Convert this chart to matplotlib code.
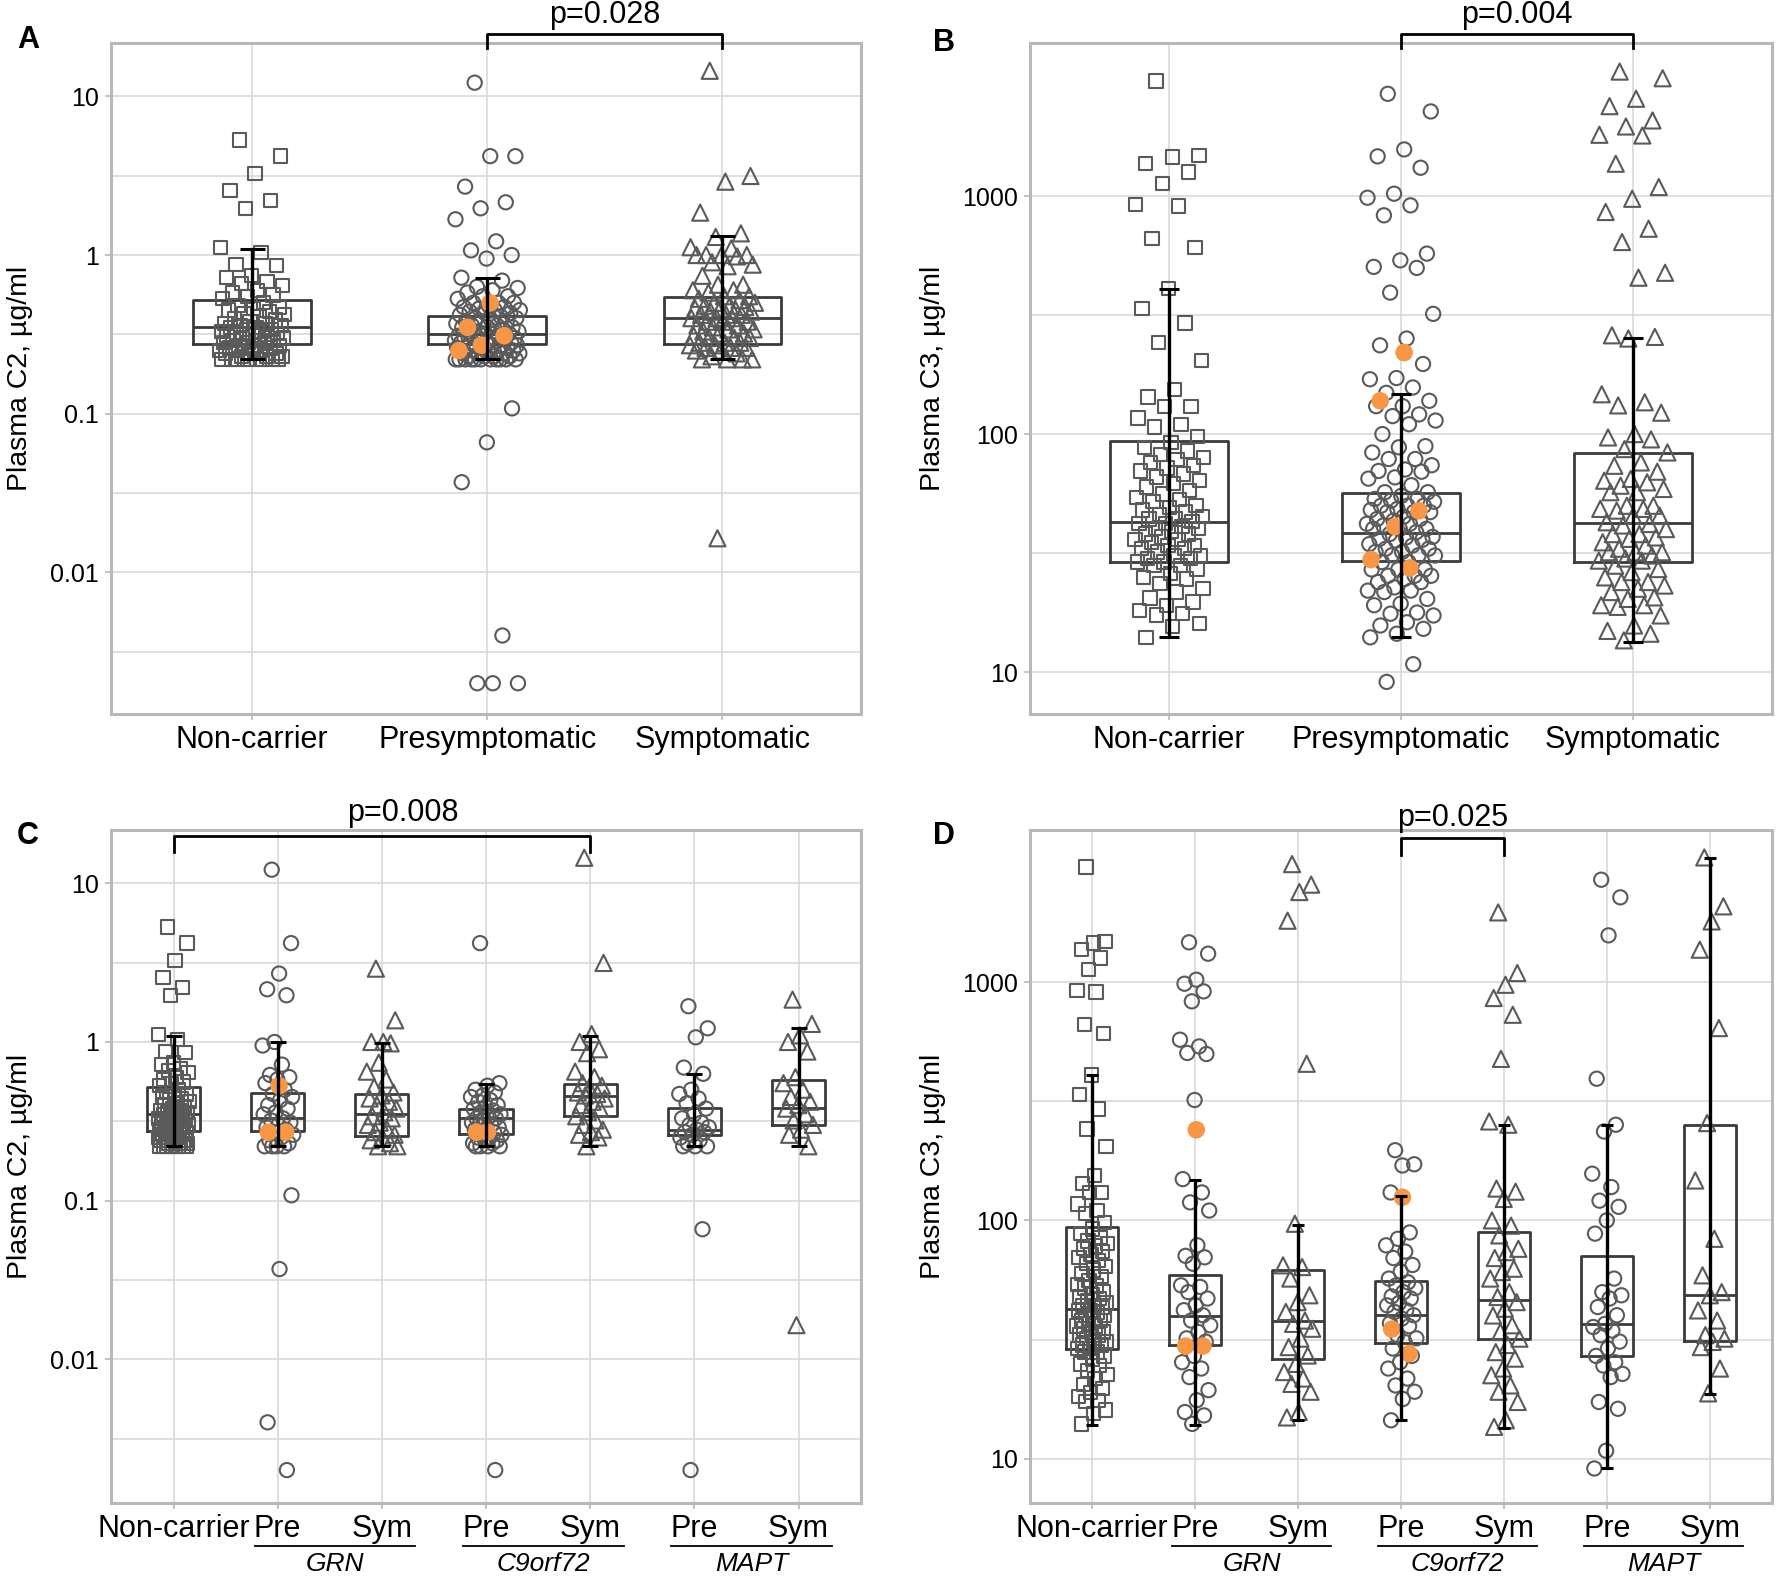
import numpy as np
import matplotlib
matplotlib.use("Agg")
import matplotlib.pyplot as plt
import matplotlib.transforms as mtransforms
from matplotlib.ticker import FixedLocator, NullFormatter

plt.rcParams['font.family'] = ['Liberation Sans', 'DejaVu Sans']

# ---------------- categories ----------------
main_groups = ['Non-carrier', 'Presymptomatic', 'Symptomatic']
gene_groups = ['Non-carrier', 'Pre', 'Sym', 'Pre', 'Sym', 'Pre', 'Sym']
genes = ['GRN', 'C9orf72', 'MAPT']

# ---------------- plasma C2 (ug/ml) ----------------
c2_noncarrier = [5.3, 4.2, 3.25, 2.55, 2.2, 1.97, 1.12, 1.04, 0.87, 0.86, 0.74, 0.72, 0.68, 0.66,
                 0.64, 0.6, 0.58, 0.56, 0.55, 0.53, 0.5, 0.48, 0.47, 0.46, 0.45, 0.44, 0.43, 0.42,
                 0.41, 0.40, 0.39, 0.38, 0.37, 0.37, 0.36, 0.36, 0.35, 0.35, 0.34, 0.34, 0.33, 0.33,
                 0.32, 0.32, 0.31, 0.31, 0.30, 0.30, 0.30, 0.29, 0.29, 0.29, 0.28, 0.28, 0.28, 0.27,
                 0.27, 0.27, 0.26, 0.26, 0.26, 0.25, 0.25, 0.25, 0.24, 0.24, 0.24, 0.23, 0.23, 0.23,
                 0.22, 0.22, 0.22, 0.22, 0.22, 0.22, 0.22, 0.22]
c2_grn_pre = [12.2, 4.2, 2.7, 2.15, 1.97, 1.0, 0.95, 0.72, 0.62, 0.6, 0.58, 0.55, 0.5, 0.47,
              0.45, 0.43, 0.4, 0.38, 0.36, 0.35, 0.33, 0.32, 0.31, 0.3, 0.29, 0.28, 0.27, 0.26,
              0.25, 0.24, 0.23, 0.22, 0.22, 0.22, 0.22, 0.108, 0.037, 0.004, 0.002]
c2_grn_sym = [2.9, 1.37, 1.0, 1.0, 0.98, 0.74, 0.65, 0.58, 0.52, 0.48, 0.46, 0.44, 0.42, 0.4,
              0.38, 0.36, 0.34, 0.33, 0.31, 0.3, 0.28, 0.27, 0.26, 0.25, 0.24, 0.23, 0.22, 0.22]
c2_c9_pre = [4.2, 0.55, 0.53, 0.5, 0.48, 0.46, 0.45, 0.43, 0.42, 0.4, 0.39, 0.38, 0.37, 0.36,
             0.35, 0.34, 0.33, 0.33, 0.32, 0.31, 0.3, 0.3, 0.29, 0.28, 0.28, 0.27, 0.26, 0.26,
             0.25, 0.25, 0.24, 0.24, 0.23, 0.23, 0.22, 0.22, 0.22, 0.22, 0.002]
c2_c9_sym = [14.5, 3.15, 1.12, 1.0, 0.9, 0.85, 0.65, 0.6, 0.55, 0.53, 0.5, 0.48, 0.47, 0.46,
             0.44, 0.42, 0.4, 0.38, 0.36, 0.34, 0.32, 0.3, 0.28, 0.27, 0.26, 0.25, 0.22]
c2_mapt_pre = [1.68, 1.22, 1.07, 0.69, 0.63, 0.5, 0.47, 0.44, 0.41, 0.38, 0.35, 0.33, 0.31,
               0.3, 0.29, 0.28, 0.27, 0.27, 0.26, 0.25, 0.24, 0.23, 0.22, 0.22, 0.22, 0.066, 0.002]
c2_mapt_sym = [1.85, 1.3, 1.1, 1.0, 0.87, 0.6, 0.55, 0.5, 0.45, 0.42, 0.4, 0.38, 0.35, 0.32,
               0.3, 0.28, 0.26, 0.22, 0.0164]
c2_grn_pre_orange = [0.53, 0.27, 0.27]
c2_c9_pre_orange = [0.27, 0.27]
c2_mapt_pre_orange = []
c2_pre_orange_pooled = [0.50, 0.35, 0.31, 0.27, 0.25]

# box [q1, median, q3] and whiskers [low, high]
c2_main_box = [[0.273, 0.354, 0.52], [0.273, 0.316, 0.41], [0.273, 0.40, 0.54]]
c2_main_whisk = [[0.22, 1.09], [0.22, 0.72], [0.22, 1.32]]
c2_gene_box = [[0.273, 0.354, 0.52], [0.273, 0.33, 0.48], [0.256, 0.35, 0.47],
               [0.263, 0.33, 0.38], [0.34, 0.455, 0.54], [0.258, 0.277, 0.385],
               [0.30, 0.385, 0.58]]
c2_gene_whisk = [[0.22, 1.09], [0.22, 1.0], [0.22, 0.98], [0.22, 0.54], [0.22, 1.09],
                 [0.22, 0.625], [0.22, 1.23]]

# ---------------- plasma C3 (ug/ml) ----------------
c3_noncarrier = [3040, 1480, 1460, 1370, 1260, 1130, 920, 908, 662, 607, 408, 337, 293, 242, 204,
                 154, 143, 131, 131, 117, 110, 107, 98, 92, 88, 85, 82, 80, 78, 76, 74, 72, 70, 68,
                 66, 64, 62, 60, 58, 56, 54, 53, 52, 50, 49, 48, 47, 46, 45, 44, 44, 43, 42, 42,
                 41, 40, 40, 39, 38, 38, 37, 36, 36, 35, 34, 34, 33, 33, 32, 31, 31, 30, 30, 29,
                 29, 28, 28, 27, 26, 25, 24.6, 23.5, 22.5, 21.7, 20.5, 19.7, 19, 18.2, 17.6, 17.4,
                 16, 15.5, 14]
c3_grn_pre = [1468, 1315, 1023, 984, 914, 830, 573, 537, 504, 499, 320, 149, 131, 119, 110, 78.6,
              71, 70, 65.8, 53.4, 52.6, 50, 47, 44, 42, 40, 38, 36.3, 34, 32, 31, 27, 25.4,
              23.9, 22, 19.4, 17.6, 15.7, 15.2, 14.0]
c3_grn_sym = [3125, 2563, 2386, 1809, 454, 96.8, 64.8, 63.7, 57, 48.5, 45.4, 41.3, 38, 36.8,
              35.1, 31.9, 29.4, 27.1, 25, 23.1, 21.7, 20.6, 19.1, 15.7, 14.9]
c3_c9_pre = [197, 172, 170, 131, 89, 83.7, 78.6, 74, 69.5, 65, 61, 57, 55, 53.4, 52, 50, 48, 47,
             45, 44, 42, 41.3, 40, 38.7, 37, 36, 33, 32, 30.9, 29, 27, 25.4, 23.9, 21.7, 20.3,
             19.1, 17.8, 14.5]
c3_c9_sym = [1960, 1091, 974, 857, 729, 476, 260, 252, 136, 132, 123, 100, 95, 86.5, 76, 73.6,
             69.5, 62.7, 60.7, 57, 50, 47.7, 45.4, 42.6, 39.9, 36.3, 34, 31.9, 30, 28, 26.3,
             23.9, 22.4, 20.3, 19.1, 17.3, 14.5, 13.6]
c3_mapt_pre = [2688, 2267, 1570, 393, 252, 236, 157, 138, 121, 114, 100, 88, 57, 50, 48.5, 47,
               43.3, 40, 36.8, 35.7, 34.5, 33, 31, 29, 27, 25.4, 24.6, 22.7, 22, 17.3, 16.2,
               10.8, 9.1]
c3_mapt_sym = [3333, 2078, 1796, 1367, 641, 256, 147, 83.7, 58.8, 50, 48.5, 41.9, 38, 33, 31.9,
               30.9, 29.4, 23.9, 18.8]
c3_grn_pre_orange = [240, 29.7, 29.7]
c3_c9_pre_orange = [125, 35, 27.6]
c3_mapt_pre_orange = []
c3_pre_orange_pooled = [220, 138, 47.6, 40.9, 29.7, 27.4]

c3_main_box = [[28.9, 42.7, 93.6], [29.4, 38.4, 56.5], [29.0, 42.5, 83.0]]
c3_main_whisk = [[14.0, 408], [14.0, 148], [13.4, 254]]
c3_gene_box = [[29.0, 42.6, 94.0], [29.9, 39.7, 58.8], [26.3, 37.8, 61.7],
               [30.7, 40.0, 55.5], [31.9, 46.2, 89.0], [27.0, 36.8, 70.8],
               [31.2, 48.5, 252.0]]
c3_gene_whisk = [[13.9, 408], [13.9, 148], [14.6, 96], [14.5, 126], [13.4, 252],
                 [9.1, 252], [18.6, 3300]]

# ---------------- styling ----------------
GRAY = '#5a5a5a'
BOXC = '#3a3a3a'
ORANGE = '#f79646'
GRID = '#d9d9d9'
SPINE = '#b8b8b8'
MARK = {'Non-carrier': 's', 'Presymptomatic': 'o', 'Symptomatic': '^',
        'Pre': 'o', 'Sym': '^'}
MSIZE = {'s': 92, 'o': 105, '^': 135}


def jitter(n, amp, phase=0.31):
    k = np.arange(n)
    return ((k * 0.6180339887 + phase) % 1.0 - 0.5) * 2 * amp


def draw_panel(ax, labels, datasets, oranges, boxes, whisk, amp, capsize, box_w,
               ylim, xlim, yticks, ytl, minor):
    for i, (lab, vals) in enumerate(zip(labels, datasets)):
        v = np.sort(np.asarray(vals, dtype=float))[::-1]
        m = MARK[lab]
        ax.scatter(i + jitter(len(v), amp), v, marker=m, s=MSIZE[m], facecolors='none',
                   edgecolors=GRAY, linewidths=1.5, zorder=3)
        if len(oranges[i]):
            o = np.asarray(oranges[i], dtype=float)
            ax.scatter(i + jitter(len(o), amp * 0.9, phase=0.55), o, marker='o', s=160,
                       color=ORANGE, edgecolors='none', zorder=4)
    stats = []
    for b in boxes:
        stats.append({'q1': b[0], 'med': b[1], 'q3': b[2], 'whislo': b[0], 'whishi': b[2],
                      'fliers': []})
    ax.bxp(stats, positions=range(len(boxes)), widths=box_w, showfliers=False, showcaps=False,
           boxprops=dict(color=BOXC, linewidth=2.0), medianprops=dict(color=BOXC, linewidth=2.0),
           whiskerprops=dict(linewidth=0), manage_ticks=False, zorder=2)
    meds = np.array([b[1] for b in boxes])
    lo = np.array([w[0] for w in whisk])
    hi = np.array([w[1] for w in whisk])
    ax.errorbar(np.arange(len(boxes)), meds, yerr=[meds - lo, hi - meds], fmt='none',
                ecolor='black', elinewidth=2.4, capsize=capsize, capthick=2.2, zorder=5)
    ax.set_yscale('log')
    ax.set_ylim(*ylim)
    ax.set_xlim(*xlim)
    ax.set_yticks(yticks)
    ax.set_yticklabels(ytl)
    ax.yaxis.set_minor_locator(FixedLocator(minor))
    ax.yaxis.set_minor_formatter(NullFormatter())
    ax.set_xticks(range(len(labels)))
    ax.set_xticklabels(labels)
    ax.grid(True, which='both', color=GRID, linewidth=1.2, zorder=0)
    ax.set_axisbelow(True)
    ax.tick_params(axis='both', which='major', length=4, width=1.2, color=SPINE)
    ax.tick_params(axis='y', which='minor', length=0)
    ax.tick_params(axis='y', labelsize=18, pad=5)
    ax.tick_params(axis='x', labelsize=22, pad=4)
    for s in ax.spines.values():
        s.set_color(SPINE)
        s.set_linewidth(2.2)


def bracket(ax, x0, x1, ybar, yleg, text, xt, yt):
    tr = mtransforms.blended_transform_factory(ax.transData, ax.transAxes)
    ax.plot([x0, x0, x1, x1], [yleg, ybar, ybar, yleg], color='black', lw=2.0,
            transform=tr, clip_on=False, zorder=6)
    ax.text(xt, yt, text, transform=tr, ha='center', va='center', fontsize=22)


def gene_labels(ax):
    tr = mtransforms.blended_transform_factory(ax.transData, ax.transAxes)
    for k, g in enumerate(genes):
        p, s = 1 + 2 * k, 2 + 2 * k
        ax.plot([p - 0.22, s + 0.32], [-0.064, -0.064], color='black', lw=1.3,
                transform=tr, clip_on=False)
        ax.text((p - 0.22 + s + 0.32) / 2, -0.091, g, transform=tr, ha='center',
                va='center', fontsize=19, style='italic')


W, H = 1776, 1580
fig = plt.figure(figsize=(W / 100, H / 100), dpi=100)
axA = fig.add_axes([111 / W, 1 - 714 / H, 750 / W, 671 / H])
axB = fig.add_axes([1030 / W, 1 - 714 / H, 742 / W, 671 / H])
axC = fig.add_axes([111 / W, 1 - 1503 / H, 750 / W, 673 / H])
axD = fig.add_axes([1030 / W, 1 - 1503 / H, 742 / W, 673 / H])

c2_ticks = [0.01, 0.1, 1, 10]
c2_tl = ['0.01', '0.1', '1', '10']
c2_minor = [0.00316, 0.0316, 0.316, 3.16]
c3_ticks = [10, 100, 1000]
c3_tl = ['10', '100', '1000']
c3_minor = [31.6, 316]

# Panel A
c2_pre_pooled = c2_grn_pre + c2_c9_pre + c2_mapt_pre
c2_sym_pooled = c2_grn_sym + c2_c9_sym + c2_mapt_sym
draw_panel(axA, main_groups, [c2_noncarrier, c2_pre_pooled, c2_sym_pooled],
           [[], c2_pre_orange_pooled, []], c2_main_box, c2_main_whisk,
           amp=0.14, capsize=9, box_w=0.5, ylim=(0.00128, 21.7), xlim=(-0.6, 2.59),
           yticks=c2_ticks, ytl=c2_tl, minor=c2_minor)
axA.set_ylabel('Plasma C2, µg/ml', fontsize=20.5)
axA.yaxis.set_label_coords(-0.104, 0.5)
bracket(axA, 1, 2, 1.0134, 0.993, 'p=0.028', 1.5, 1.042)

# Panel B
c3_pre_pooled = c3_grn_pre + c3_c9_pre + c3_mapt_pre
c3_sym_pooled = c3_grn_sym + c3_c9_sym + c3_mapt_sym
draw_panel(axB, main_groups, [c3_noncarrier, c3_pre_pooled, c3_sym_pooled],
           [[], c3_pre_orange_pooled, []], c3_main_box, c3_main_whisk,
           amp=0.15, capsize=7.5, box_w=0.51, ylim=(6.67, 4395), xlim=(-0.6, 2.6),
           yticks=c3_ticks, ytl=c3_tl, minor=c3_minor)
axB.set_ylabel('Plasma C3, µg/ml', fontsize=20.5)
axB.yaxis.set_label_coords(-0.113, 0.5)
bracket(axB, 1, 2, 1.0134, 0.993, 'p=0.004', 1.5, 1.042)

# Panel C
draw_panel(axC, gene_groups,
           [c2_noncarrier, c2_grn_pre, c2_grn_sym, c2_c9_pre, c2_c9_sym, c2_mapt_pre, c2_mapt_sym],
           [[], c2_grn_pre_orange, [], c2_c9_pre_orange, [], c2_mapt_pre_orange, []],
           c2_gene_box, c2_gene_whisk, amp=0.15, capsize=5.5, box_w=0.51,
           ylim=(0.00124, 21.7), xlim=(-0.6, 6.6), yticks=c2_ticks, ytl=c2_tl, minor=c2_minor)
axC.set_ylabel('Plasma C2, µg/ml', fontsize=20.5)
axC.yaxis.set_label_coords(-0.104, 0.5)
bracket(axC, 0, 4, 0.991, 0.967, 'p=0.008', 2.2, 1.025)
gene_labels(axC)

# Panel D
draw_panel(axD, gene_groups,
           [c3_noncarrier, c3_grn_pre, c3_grn_sym, c3_c9_pre, c3_c9_sym, c3_mapt_pre, c3_mapt_sym],
           [[], c3_grn_pre_orange, [], c3_c9_pre_orange, [], c3_mapt_pre_orange, []],
           c3_gene_box, c3_gene_whisk, amp=0.15, capsize=4.2, box_w=0.51,
           ylim=(6.52, 4345), xlim=(-0.6, 6.6), yticks=c3_ticks, ytl=c3_tl, minor=c3_minor)
axD.set_ylabel('Plasma C3, µg/ml', fontsize=20.5)
axD.yaxis.set_label_coords(-0.113, 0.5)
bracket(axD, 3, 4, 0.988, 0.963, 'p=0.025', 3.5, 1.018)
gene_labels(axD)

# Panel letters
for lab, (px, py) in zip('ABCD', [(28, 40), (944, 43), (28, 836), (944, 836)]):
    fig.text(px / W, 1 - py / H, lab, fontsize=22, fontweight='bold', ha='center', va='center')

fig.savefig('out.png', dpi=100)
